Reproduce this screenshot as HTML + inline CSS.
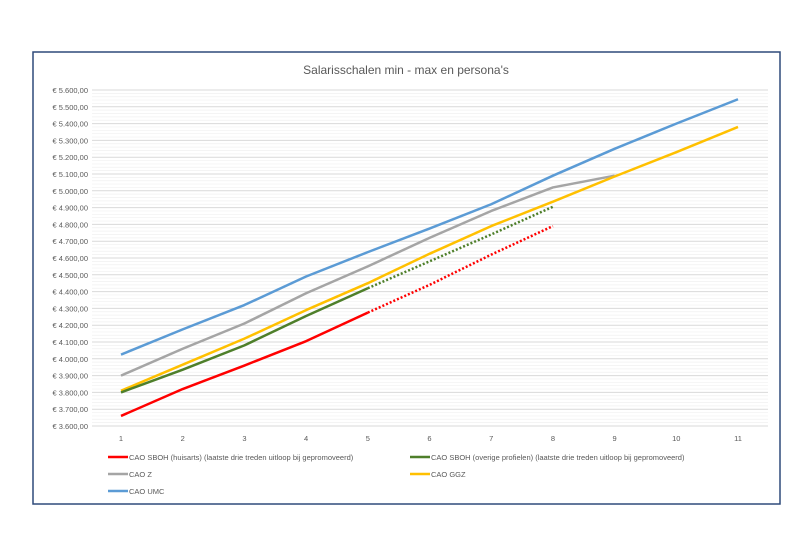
<!DOCTYPE html>
<html><head><meta charset="utf-8"><style>
body{margin:0;background:#fff;width:800px;height:533px;overflow:hidden;font-family:"Liberation Sans",sans-serif}
</style></head><body>
<svg id="c" width="800" height="533" xmlns="http://www.w3.org/2000/svg">
<rect x="33" y="52" width="747" height="452" fill="#fff" stroke="#2f4a7a" stroke-width="1.5"/>
<text x="406" y="74" font-size="12" fill="#595959" text-anchor="middle">Salarisschalen min - max en persona's</text>
<g id="grid"></g><g id="yl"></g><g id="xl"></g><g id="lines"></g>
<g font-size="7.5" fill="#595959">
<line x1="108" y1="457" x2="128" y2="457" stroke="#ff0000" stroke-width="2.5"/><text x="129" y="460">CAO SBOH (huisarts) (laatste drie treden uitloop bij gepromoveerd)</text>
<line x1="410" y1="457" x2="430" y2="457" stroke="#4e7f2a" stroke-width="2.5"/><text x="431" y="460">CAO SBOH (overige profielen) (laatste drie treden uitloop bij gepromoveerd)</text>
<line x1="108" y1="474" x2="128" y2="474" stroke="#a5a5a5" stroke-width="2.5"/><text x="129" y="477">CAO Z</text>
<line x1="410" y1="474" x2="430" y2="474" stroke="#ffc000" stroke-width="2.5"/><text x="431" y="477">CAO GGZ</text>
<line x1="108" y1="491" x2="128" y2="491" stroke="#5b9bd5" stroke-width="2.5"/><text x="129" y="494">CAO UMC</text>
</g>
</svg>
<script>
const categories=[1,2,3,4,5,6,7,8,9,10,11];
const yTicks=[3600,3700,3800,3900,4000,4100,4200,4300,4400,4500,4600,4700,4800,4900,5000,5100,5200,5300,5400,5500,5600];
const umc=[4025,4175,4320,4490,4635,4775,4920,5090,5250,5400,5545];
const caoZ=[3900,4060,4210,4390,4550,4720,4880,5020,5090];
const ggz=[3810,3965,4120,4290,4450,4625,4790,4935,5085,5230,5380];
const sbohOverige=[3800,3935,4080,4255,4420,4580,4740,4905];
const sbohHuisarts=[3660,3820,3960,4105,4275,4440,4620,4790];
const NS="http://www.w3.org/2000/svg";
const y=v=>426-(v-3600)*0.168;
const x=i=>121+(i-1)*61.7;
function mk(t,a,p){const e=document.createElementNS(NS,t);for(const k in a)e.setAttribute(k,a[k]);document.getElementById(p).appendChild(e);return e;}
for(let v=3600;v<=5600;v+=20){
 const major=v%100===0;
 const l=mk('line',{x1:92,x2:768,y1:y(v),y2:y(v),stroke:major?'#d9d9d9':'#f0f0f0','stroke-width':major?1:0.7},'grid');
 
 
}
yTicks.forEach(v=>{
 const t=mk('text',{x:88,y:y(v)+3,'font-size':7.5,fill:'#595959','text-anchor':'end'},'yl');
 t.textContent='€ '+v.toLocaleString('de-DE')+',00';
 
 
});
categories.forEach(c=>{
 const t=mk('text',{x:x(c),y:441,'font-size':7.5,fill:'#595959','text-anchor':'middle'},'xl');
 t.textContent=c;
 
 
});
function line(vals,from,to,color,dash,name){
 const pts=[];for(let i=from;i<=to&&i<vals.length;i++)pts.push(x(categories[i])+','+y(vals[i]));
 const a={points:pts.join(' '),fill:'none',stroke:color,'stroke-width':2.5,'stroke-linejoin':'round'};
 if(dash)a['stroke-dasharray']='2 2';
 const p=mk('polyline',a,'lines');
 
 
}
line(umc,0,10,'#5b9bd5',false,'series-cao-umc');
line(caoZ,0,8,'#a5a5a5',false,'series-cao-z');
line(ggz,0,10,'#ffc000',false,'series-cao-ggz');
line(sbohOverige,0,4,'#4e7f2a',false,'series-sboh-overige');
line(sbohOverige,4,7,'#4e7f2a',true,'series-sboh-overige-uitloop');
line(sbohHuisarts,0,4,'#ff0000',false,'series-sboh-huisarts');
line(sbohHuisarts,4,7,'#ff0000',true,'series-sboh-huisarts-uitloop');
</script>
</body></html>
